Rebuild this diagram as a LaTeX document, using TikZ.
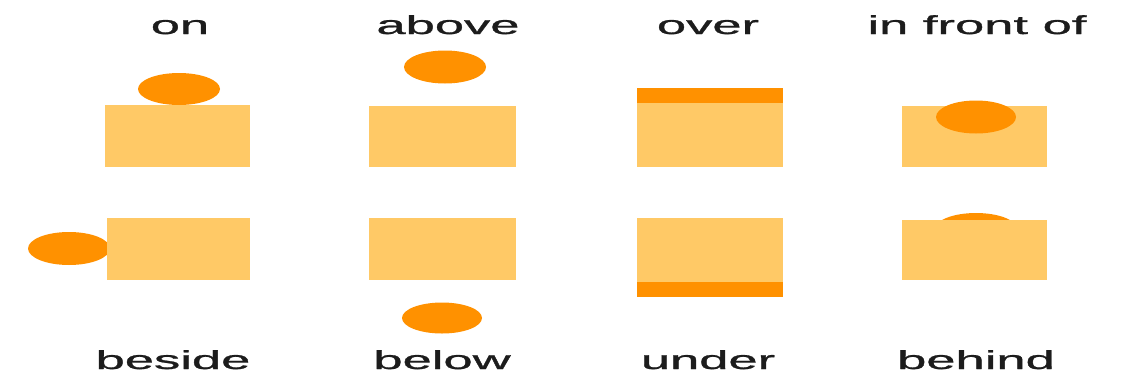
\documentclass[tikz,border=0pt]{standalone}
\usepackage{fontspec}
\setmainfont{Liberation Sans}
\newfontfamily\lblfont[FakeBold=0.8]{Liberation Sans}
\definecolor{boxc}{RGB}{255,201,102}
\definecolor{ballc}{RGB}{255,145,0}
\definecolor{txtc}{RGB}{28,28,28}
\tikzset{
  lbl/.style={anchor=base, inner sep=0pt, text=txtc, font=\lblfont\fontsize{26}{30}\selectfont},
  boxfill/.style={fill=boxc},
  ballfill/.style={fill=ballc},
}
\newcommand{\wide}[1]{\scalebox{2.02}[1]{#1}}
\begin{document}
\begin{tikzpicture}[x=1pt,y=-1pt]
\useasboundingbox[fill=white] (0,0) rectangle (1124,375);
% top labels
\node[lbl] (lon) at (180,34) {\wide{on}};
\node[lbl] (labove) at (448,34) {\wide{above}};
\node[lbl] (lover) at (708,34) {\wide{over}};
\node[lbl] (lfront) at (977,34) {\wide{in front of}};
% bottom labels
\node[lbl] (lbeside) at (173,369) {\wide{beside}};
\node[lbl] (lbelow) at (442,369) {\wide{below}};
\node[lbl] (lunder) at (708,369) {\wide{under}};
\node[lbl] (lbehind) at (976,369) {\wide{behind}};
% row 1
\fill[boxfill] (105,105) rectangle (250,167);
\fill[ballfill] (179,89) ellipse [x radius=41, y radius=16];
\fill[boxfill] (369,106) rectangle (516,167);
\fill[ballfill] (445,67) ellipse [x radius=41, y radius=16.5];
\fill[boxfill] (637,88) rectangle (783,167);
\fill[ballfill] (637,88) rectangle (783,103);
\fill[boxfill] (902,106) rectangle (1047,167);
\fill[ballfill] (976,117) ellipse [x radius=40, y radius=16.5];
% row 2
\fill[ballfill] (69,248.5) ellipse [x radius=41, y radius=16.5];
\fill[boxfill] (107,218) rectangle (250,280);
\fill[boxfill] (369,218) rectangle (516,280);
\fill[ballfill] (442,318) ellipse [x radius=40, y radius=15.5];
\fill[boxfill] (637,218) rectangle (783,297);
\fill[ballfill] (637,282) rectangle (783,297);
\fill[ballfill] (976,229) ellipse [x radius=41, y radius=16];
\fill[boxfill] (902,220) rectangle (1047,280);
\end{tikzpicture}
\end{document}
